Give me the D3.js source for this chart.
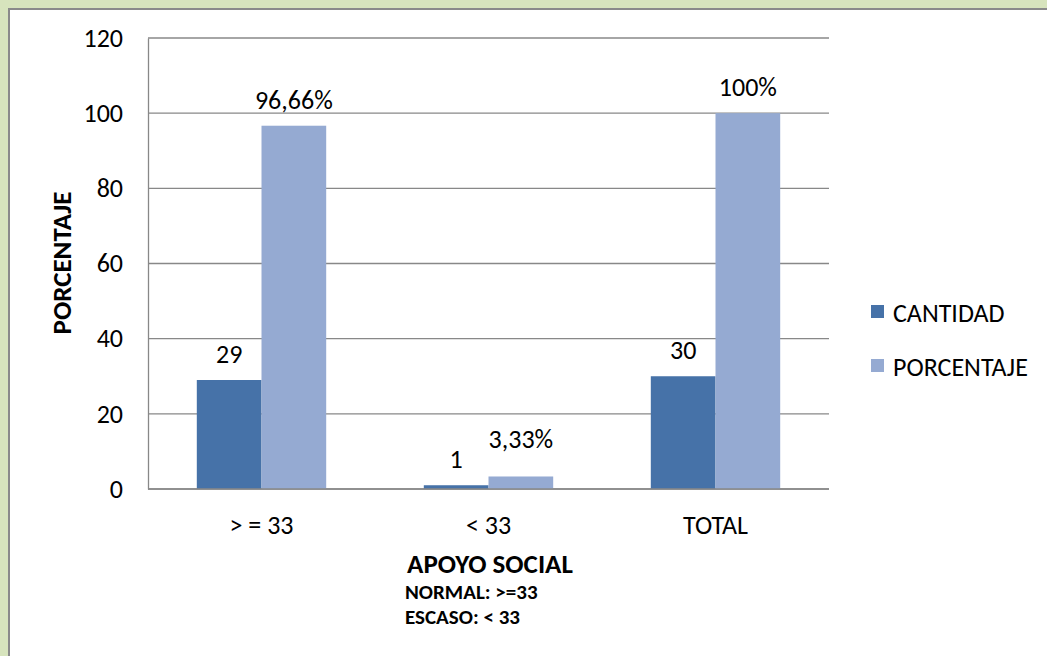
<!DOCTYPE html>
<html><head><meta charset="utf-8">
<script src="https://cdn.jsdelivr.net/npm/d3@7"></script>
<style>body{margin:0;background:#d7e4bd;overflow:hidden}svg{display:block}</style>
</head><body>
<svg id="c" width="1047" height="656"></svg>
<script>
const categories = ["> = 33", "< 33", "TOTAL"];
const seriesNames = ["CANTIDAD", "PORCENTAJE"];
const cantidad = [29, 1, 30];
const porcentaje = [96.66, 3.33, 100];
const cantidadLabels = ["29", "1", "30"];
const porcentajeLabels = ["96,66%", "3,33%", "100%"];
const yTicks = [0, 20, 40, 60, 80, 100, 120];
const colors = ["#4672a8", "#95aad2"];
const font = "Carlito, Calibri, Lato, 'Open Sans', sans-serif";

const svg = d3.select("#c");
svg.append("rect").attr("x", 9).attr("y", 9).attr("width", 1100).attr("height", 700)
  .attr("fill", "#fff").attr("stroke", "#8a8a8a").attr("stroke-width", 2);

const L = 148, R = 829, T = 38, B = 489;
const y = d3.scaleLinear().domain([0, 120]).range([B, T]);
const x0 = d3.scaleBand().domain(categories).range([L, R]).paddingInner(0.43).paddingOuter(0.215);
const x1 = d3.scaleBand().domain(seriesNames).range([0, x0.bandwidth()]);

// gridlines
svg.append("g").selectAll("line").data(yTicks).join("line")
  .attr("x1", L).attr("x2", R).attr("y1", d => y(d)).attr("y2", d => y(d))
  .attr("stroke", "#888").attr("stroke-width", 1.3);

// y axis
const ya = svg.append("g").attr("transform", `translate(${L},0)`)
  .call(d3.axisLeft(y).tickValues(yTicks).tickSize(0).tickPadding(25));
ya.select(".domain").attr("stroke", "#888").attr("stroke-width", 1.3);
ya.selectAll("text").attr("font-family", font).attr("font-size", 26).attr("fill", "#000");

// bars
const data = categories.map((c, i) => ({c, vals: [cantidad[i], porcentaje[i]], labs: [cantidadLabels[i], porcentajeLabels[i]]}));
const g = svg.append("g").selectAll("g").data(data).join("g")
  .attr("transform", d => `translate(${x0(d.c)},0)`);
g.selectAll("rect").data(d => d.vals.map((v, k) => ({v, k}))).join("rect")
  .attr("x", d => x1(seriesNames[d.k])).attr("width", x1.bandwidth())
  .attr("y", d => y(d.v)).attr("height", d => B - y(d.v))
  .attr("fill", d => colors[d.k]);

// labels with simple collision avoidance
const off = 17;
g.each(function(d) {
  const ys = d.vals.map(v => y(v) - off);
  if (Math.abs(ys[1] - ys[0]) < 20) ys[1] = Math.min(ys[1], ys[0] - 20);
  d3.select(this).selectAll("text.lab").data(d.labs).join("text").attr("class", "lab")
    .attr("x", (t, k) => x1(seriesNames[k]) + x1.bandwidth() / 2)
    .attr("y", (t, k) => ys[k])
    .attr("text-anchor", "middle").attr("font-family", font).attr("font-size", 26).attr("fill", "#000")
    .text(t => t);
});

// x axis
svg.append("line").attr("x1", L).attr("x2", R).attr("y1", B).attr("y2", B)
  .attr("stroke", "#888").attr("stroke-width", 1.3);
svg.append("g").selectAll("text").data(categories).join("text")
  .attr("x", d => x0(d) + x0.bandwidth() / 2).attr("y", 534)
  .attr("text-anchor", "middle").attr("font-family", font).attr("font-size", 26).text(d => d);

// axis titles
svg.append("text").attr("transform", "translate(71,263) rotate(-90)").attr("text-anchor", "middle")
  .attr("font-family", font).attr("font-size", 27).attr("font-weight", "bold").text("PORCENTAJE");
svg.append("text").attr("x", 490).attr("y", 573).attr("text-anchor", "middle")
  .attr("font-family", font).attr("font-size", 27).attr("font-weight", "bold").text("APOYO SOCIAL");
svg.append("text").attr("x", 405).attr("y", 599)
  .attr("font-family", font).attr("font-size", 21).attr("font-weight", "bold").text("NORMAL: >=33");
svg.append("text").attr("x", 405).attr("y", 624)
  .attr("font-family", font).attr("font-size", 21).attr("font-weight", "bold").text("ESCASO: < 33");

// legend
const lg = svg.append("g").selectAll("g").data(seriesNames).join("g")
  .attr("transform", (d, i) => `translate(871,${305 + i * 54})`);
lg.append("rect").attr("width", 13).attr("height", 13).attr("fill", (d, i) => colors[i]);
lg.append("text").attr("x", 22).attr("y", 17).attr("font-family", font).attr("font-size", 26).text(d => d);
</script>
</body></html>
